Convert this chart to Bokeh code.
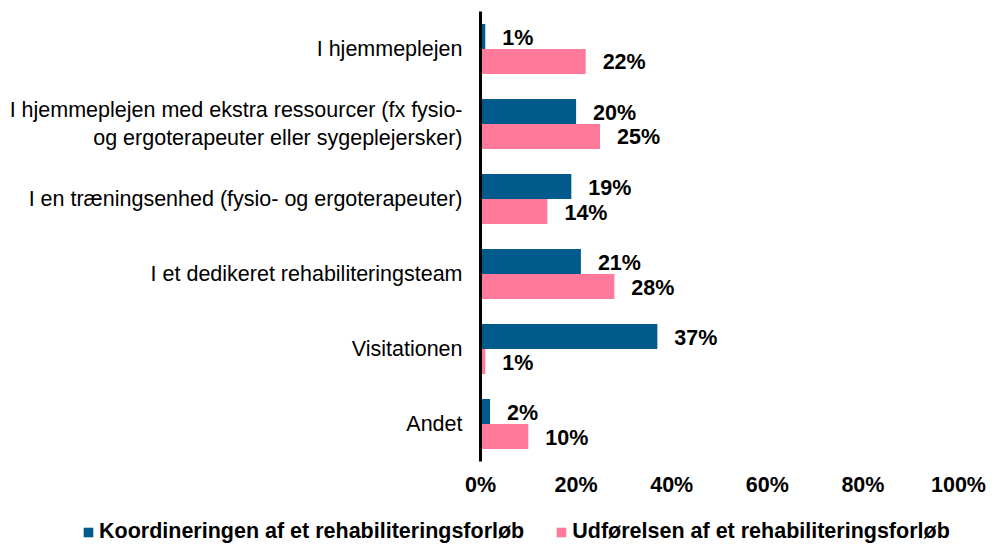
from bokeh.plotting import figure
from bokeh.models import (FactorRange, Range1d, FixedTicker, Legend, LegendItem,
                          ColumnDataSource, PrintfTickFormatter)
from bokeh.transform import dodge
from bokeh.core.properties import value
from bokeh.embed import file_html
from bokeh.resources import INLINE

categories = [
    "I hjemmeplejen",
    "I hjemmeplejen med ekstra ressourcer (fx fysio-\nog ergoterapeuter eller sygeplejersker)",
    "I en træningsenhed (fysio- og ergoterapeuter)",
    "I et dedikeret rehabiliteringsteam",
    "Visitationen",
    "Andet",
]
koordinering = [1, 20, 19, 21, 37, 2]
udfoerelse = [22, 25, 14, 28, 1, 10]
series_names = ["Koordineringen af et rehabiliteringsforløb",
                "Udførelsen af et rehabiliteringsforløb"]
x_ticks = [0, 20, 40, 60, 80, 100]

BLUE = "#005A8C"
PINK = "#FF7A9A"
FONT = "Liberation Sans"
FS = "21.5px"

src = ColumnDataSource(dict(
    cat=categories,
    k=koordinering,
    u=udfoerelse,
    kl=[f"{v}%" for v in koordinering],
    ul=[f"{v}%" for v in udfoerelse],
))

p = figure(width=997, height=505,
           y_range=FactorRange(factors=categories[::-1], range_padding=0, factor_padding=0),
           x_range=Range1d(0, 100),
           output_backend="svg", toolbar_location=None,
           min_border_left=480, min_border_right=39,
           min_border_top=11, min_border_bottom=44)

r1 = p.hbar(y=dodge("cat", 1/6, range=p.y_range), left=0, right="k", height=1/3,
            source=src, fill_color=BLUE, line_color=None)
r2 = p.hbar(y=dodge("cat", -1/6, range=p.y_range), left=0, right="u", height=1/3,
            source=src, fill_color=PINK, line_color=None)

for col, lab, off in (("k", "kl", 1/6), ("u", "ul", -1/6)):
    p.text(x=col, y=dodge("cat", off, range=p.y_range), text=lab, source=src,
           x_offset=17, y_offset=1, text_baseline="middle", text_align="left",
           text_font=value(FONT), text_font_style="bold", text_font_size=FS,
           text_color="black")

p.xgrid.visible = False
p.ygrid.visible = False
p.outline_line_color = None
p.background_fill_color = "white"
p.border_fill_color = "white"

xa = p.xaxis[0]
xa.ticker = FixedTicker(ticks=x_ticks)
xa.formatter = PrintfTickFormatter(format="%d%%")
xa.axis_line_color = None
xa.major_tick_line_color = None
xa.minor_tick_line_color = None
xa.major_label_standoff = 5
xa.major_label_text_font = FONT
xa.major_label_text_font_style = "bold"
xa.major_label_text_font_size = FS
xa.major_label_text_color = "black"

ya = p.yaxis[0]
ya.axis_line_color = "black"
ya.axis_line_width = 3
ya.major_tick_line_color = None
ya.minor_tick_line_color = None
ya.major_label_standoff = 12
ya.major_label_text_font = FONT
ya.major_label_text_font_size = FS
ya.major_label_text_color = "black"

# legend strip below the chart (separate root so its frame spans the full width)
lg = figure(width=997, height=39, x_range=Range1d(0, 1), y_range=Range1d(0, 1),
            output_backend="svg", toolbar_location=None,
            x_axis_location=None, y_axis_location=None,
            min_border=0, min_border_left=0, min_border_right=0,
            min_border_top=0, min_border_bottom=0)
lg.xgrid.visible = False
lg.ygrid.visible = False
lg.outline_line_color = None
lg.background_fill_color = "white"
lg.border_fill_color = "white"
# hidden renderers that only provide the legend swatches
e1 = lg.hbar(y="k", right="k", height=1, source=src, fill_color=BLUE,
             line_color=None, visible=False)
e2 = lg.hbar(y="u", right="u", height=1, source=src, fill_color=PINK,
             line_color=None, visible=False)

legend = Legend(items=[LegendItem(label=series_names[0], renderers=[e1]),
                       LegendItem(label=series_names[1], renderers=[e2])],
                location=(82, 0), orientation="horizontal")
legend.glyph_width = 12
legend.glyph_height = 12
legend.label_standoff = 5
legend.spacing = 31
legend.padding = 0
legend.margin = 0
legend.border_line_color = None
legend.background_fill_alpha = 0
legend.inactive_fill_alpha = 0
legend.label_text_font = FONT
legend.label_text_font_style = "bold"
legend.label_text_font_size = FS
legend.label_text_color = "black"
lg.add_layout(legend)

open("out.html", "w").write(file_html([p, lg], INLINE))
